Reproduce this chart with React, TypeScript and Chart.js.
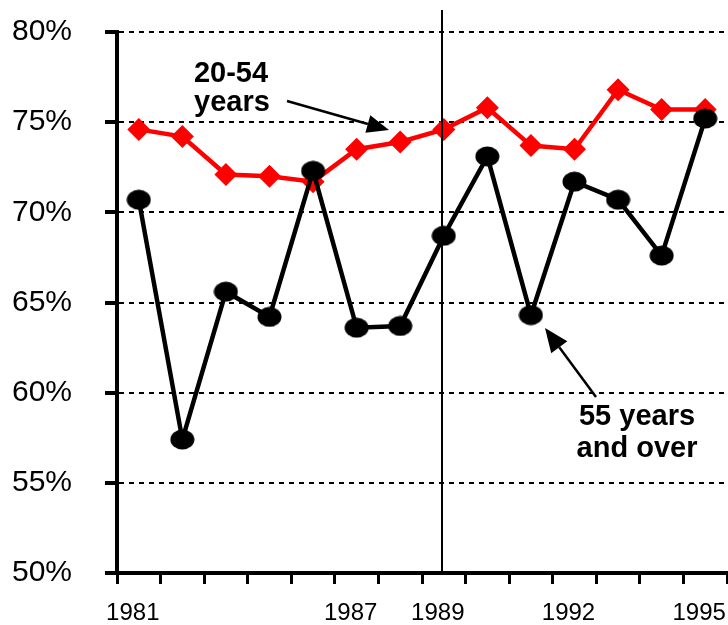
import React, { useEffect, useRef } from "react";
import { Chart, registerables } from "chart.js";

Chart.register(...registerables);

const FONT = '"Liberation Sans", Arial, Helvetica, sans-serif';

// x categories (14 annual observations); only some carry a printed label
const tickLabels = ["1981", "", "", "", "", "1987", "", "1989", "", "", "1992", "", "", "1995"];
// index of the category marked by the vertical reference line (1989)
const markerIndex = 7;

// Series values (percent)
const age20to54 = [74.6, 74.2, 72.1, 72.0, 71.7, 73.5, 73.9, 74.6, 75.8, 73.7, 73.5, 76.8, 75.7, 75.7];
const age55plus = [70.7, 57.4, 65.6, 64.2, 72.3, 63.6, 63.7, 68.7, 73.1, 64.3, 71.7, 70.7, 67.6, 75.2];

// y-axis
const yMin = 50;
const yMax = 80;
const yStep = 5;

function makeEllipse(w: number, h: number, color: string) {
  const c = document.createElement("canvas");
  c.width = w;
  c.height = h;
  const g = c.getContext("2d")!;
  g.fillStyle = color;
  g.beginPath();
  g.ellipse(w / 2, h / 2, w / 2 - 0.5, h / 2 - 0.5, 0, 0, Math.PI * 2);
  g.fill();
  return c;
}

function arrow(ctx: CanvasRenderingContext2D, x1: number, y1: number, x2: number, y2: number, head: number, half: number) {
  const ang = Math.atan2(y2 - y1, x2 - x1);
  const bx = x2 - Math.cos(ang) * head;
  const by = y2 - Math.sin(ang) * head;
  ctx.beginPath();
  ctx.moveTo(x1, y1);
  ctx.lineTo(bx, by);
  ctx.stroke();
  ctx.beginPath();
  ctx.moveTo(x2, y2);
  ctx.lineTo(bx + Math.sin(ang) * half, by - Math.cos(ang) * half);
  ctx.lineTo(bx - Math.sin(ang) * half, by + Math.cos(ang) * half);
  ctx.closePath();
  ctx.fill();
}

const annotPlugin = {
  id: "annot",
  afterDatasetsDraw(chart: any) {
    const ctx: CanvasRenderingContext2D = chart.ctx;
    const xs = chart.scales.x;
    const ys = chart.scales.y;
    const vx = Math.round(xs.getPixelForValue(markerIndex)) - 2;
    ctx.save();
    ctx.strokeStyle = "#000";
    ctx.fillStyle = "#000";
    ctx.lineWidth = 2;
    ctx.beginPath();
    ctx.moveTo(vx, 10);
    ctx.lineTo(vx, ys.bottom);
    ctx.stroke();

    ctx.font = `bold 29px ${FONT}`;
    ctx.textAlign = "center";
    ctx.textBaseline = "alphabetic";
    ctx.fillText("20-54", 231, 82);
    ctx.fillText("years", 232, 111);
    ctx.fillText("55 years", 637, 425);
    ctx.fillText("and over", 637, 457);

    ctx.lineWidth = 2.5;
    arrow(ctx, 287, 101, 389, 130, 22, 9);
    arrow(ctx, 596, 397, 545, 328, 24, 10);
    ctx.restore();
  },
};

export default function App() {
  const ref = useRef<HTMLCanvasElement>(null);

  useEffect(() => {
    if (!ref.current) return;
    const ellipse = makeEllipse(25, 21, "#000");
    const chart = new Chart(ref.current, {
      type: "line",
      data: {
        labels: tickLabels,
        datasets: [
          {
            label: "55 years and over",
            data: age55plus,
            borderColor: "#000",
            backgroundColor: "#000",
            borderWidth: 4.5,
            pointStyle: ellipse as any,
            pointRadius: 11,
            tension: 0,
          },
          {
            label: "20-54 years",
            data: age20to54,
            borderColor: "#ff0000",
            backgroundColor: "#ff0000",
            borderWidth: 4.5,
            pointStyle: "rectRot",
            pointRadius: 11.5,
            pointBorderWidth: 0,
            tension: 0,
          },
        ],
      },
      options: {
        animation: false,
        responsive: false,
        layout: { autoPadding: false, padding: { top: 32, right: 1, bottom: 0, left: 0 } },
        plugins: { legend: { display: false }, tooltip: { enabled: false } },
        scales: {
          x: {
            type: "category",
            offset: true,
            grid: {
              offset: true,
              drawOnChartArea: false,
              drawTicks: true,
              tickLength: 11,
              tickWidth: 3,
              tickColor: "#000",
            },
            border: { display: true, color: "#000", width: 4 },
            ticks: {
              autoSkip: false,
              maxRotation: 0,
              minRotation: 0,
              padding: 15,
              labelOffset: -6,
              color: "#000",
              font: { family: FONT, size: 24 },
            },
            afterFit: (s: any) => {
              s.height = 52;
              s.paddingLeft = 0;
              s.paddingRight = 0;
            },
          },
          y: {
            min: yMin,
            max: yMax,
            ticks: {
              stepSize: yStep,
              padding: 33,
              color: "#000",
              font: { family: FONT, size: 30 },
              callback: (v: any) => `${v}%`,
            },
            grid: {
              color: "#000",
              lineWidth: 2,
              tickLength: 12,
              tickWidth: 4,
              tickColor: "#000",
              tickBorderDash: [],
            },
            border: { display: true, color: "#000", width: 4, dash: [5, 5] },
            afterFit: (s: any) => {
              s.width = 117;
              s.paddingTop = 0;
              s.paddingBottom = 0;
            },
          },
        },
      } as any,
      plugins: [annotPlugin],
    });
    return () => chart.destroy();
  }, []);

  return (
    <div style={{ position: "fixed", left: 0, top: 0, width: 728, height: 625, background: "#fff" }}>
      <canvas ref={ref} width={728} height={625} style={{ display: "block" }} />
    </div>
  );
}
